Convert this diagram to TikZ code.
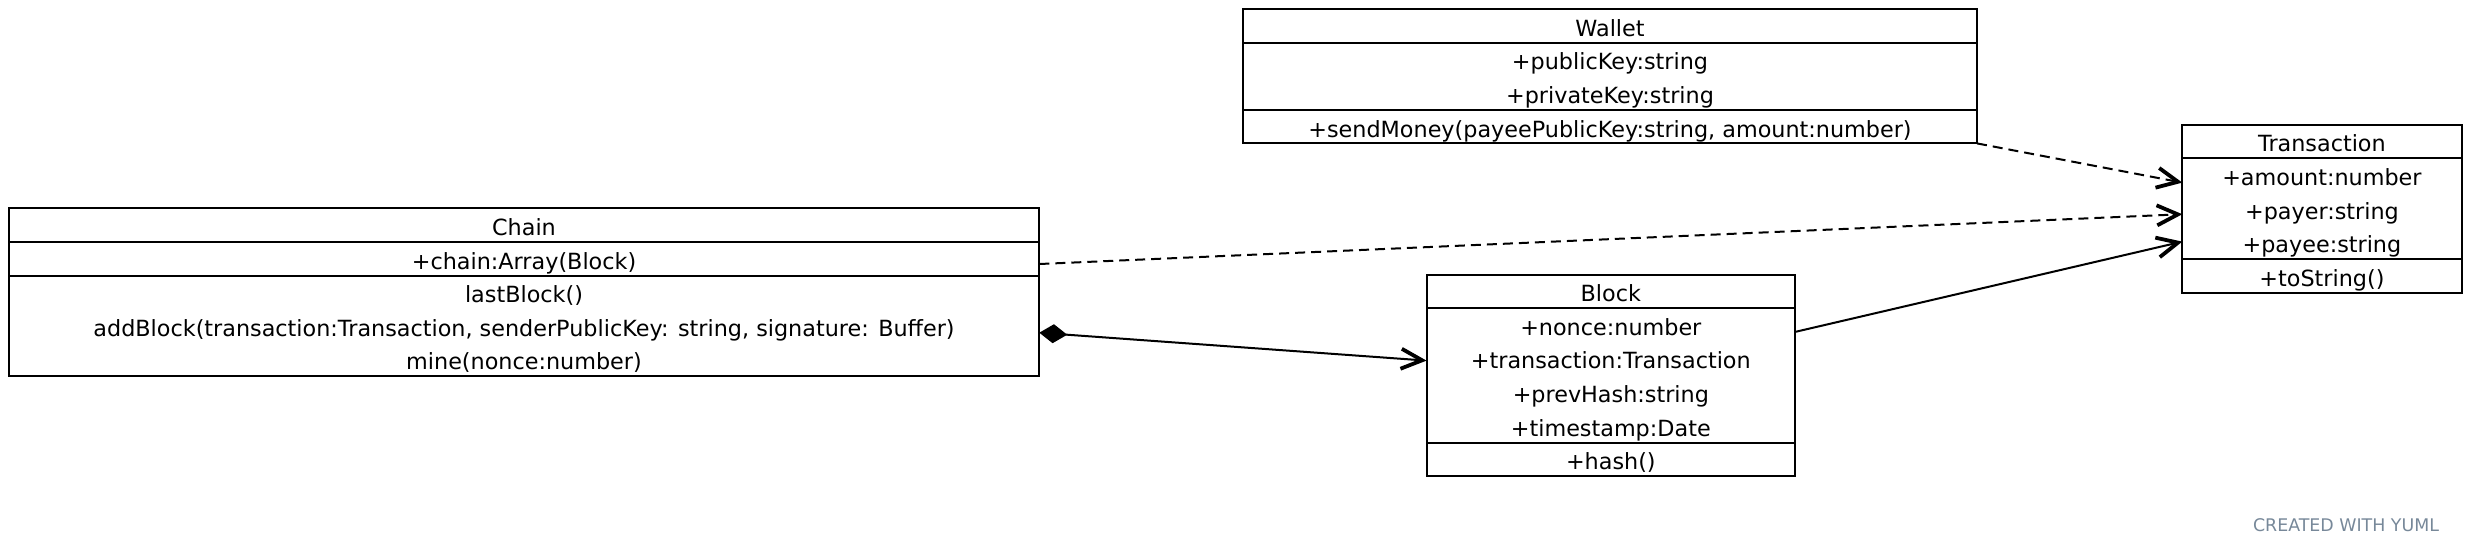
\documentclass[tikz,border=0pt]{standalone}
\usepackage{fontspec}
\setmainfont{DejaVu Sans}
\usetikzlibrary{positioning,arrows.meta}
\definecolor{yumlgray}{RGB}{119,136,153}
% one row of a class box: 13.6pt above the baseline, 3.2pt below
\newcommand{\rowstrut}{\rule[-3.2pt]{0pt}{16.8pt}}

\begin{document}
\begin{tikzpicture}[x=0.5pt,y=-0.5pt,
        box/.style={draw,line width=1pt,inner sep=0pt,outer sep=0pt,align=center,
            font=\fontsize{11.15}{16.8}\selectfont},
        rows/.style={minimum height=#1*16.8pt},
        vee/.tip={Straight Barb[length=10.5pt,width=10pt,line width=1.9pt]},
        dep/.style={line width=1pt,dash pattern=on 5pt off 3pt,-vee},
        assoc/.style={line width=1pt,-vee},
        comp/.style={line width=1pt,{Diamond[length=14pt,width=9.5pt]}-vee}]
        \useasboundingbox (0,0) rectangle (2471,554);

        % Chain
        \node[box,rows=1,minimum width=515.3pt,anchor=north west] (chain) at (8.7,208.3) {\rowstrut Chain};
        \node[box,rows=1,minimum width=515.3pt,below=0pt of chain] (chainattr) {\rowstrut +chain:Array(Block)};
        \node[box,rows=3,minimum width=515.3pt,below=0pt of chainattr] (chainops)
            {\rowstrut lastBlock()\\addBlock(transaction:Transaction, senderPublicKey: string, signature: Buffer)\\mine(nonce:number)\rowstrut};

        % Wallet
        \node[box,rows=1,minimum width=367pt,anchor=north west] (wallet) at (1243,9) {\rowstrut Wallet};
        \node[box,rows=2,minimum width=367pt,below=0pt of wallet] (walletattr) {\rowstrut +publicKey:string\\+privateKey:string\rowstrut};
        \node[box,rows=1,minimum width=367pt,below=0pt of walletattr] (walletops)
            {\rowstrut +sendMoney(payeePublicKey:string, amount:number)};

        % Transaction
        \node[box,rows=1,minimum width=139.6pt,anchor=north west] (trans) at (2182.3,124.6) {\rowstrut Transaction};
        \node[box,rows=3,minimum width=139.6pt,below=0pt of trans] (transattr)
            {\rowstrut +amount:number\\+payer:string\\+payee:string\rowstrut};
        \node[box,rows=1,minimum width=139.6pt,below=0pt of transattr] (transops) {\rowstrut +toString()};

        % Block
        \node[box,rows=1,minimum width=184.3pt,anchor=north west] (block) at (1426.5,274.5) {\rowstrut Block};
        \node[box,rows=4,minimum width=184.3pt,below=0pt of block] (blockattr)
            {\rowstrut +nonce:number\\+transaction:Transaction\\+prevHash:string\\+timestamp:Date\rowstrut};
        \node[box,rows=1,minimum width=184.3pt,below=0pt of blockattr] (blockops) {\rowstrut +hash()};

        \draw[dep] (walletops.south east) -- ([yshift=13pt]transattr.west);
        \draw[dep] ([yshift=-2.65pt]chainattr.east) -- ([yshift=-2.8pt]transattr.west);
        \draw[assoc] ([yshift=21.7pt]blockattr.east) -- ([yshift=-16.5pt]transattr.west);
        \draw[comp] ([yshift=-3.4pt]chainops.east) -- ([yshift=7.35pt]blockattr.west);

        \node[text=yumlgray,font=\fontsize{8.7}{10}\selectfont] (credit) at (2346,524.7) {CREATED WITH YUML};
\end{tikzpicture}
\end{document}
